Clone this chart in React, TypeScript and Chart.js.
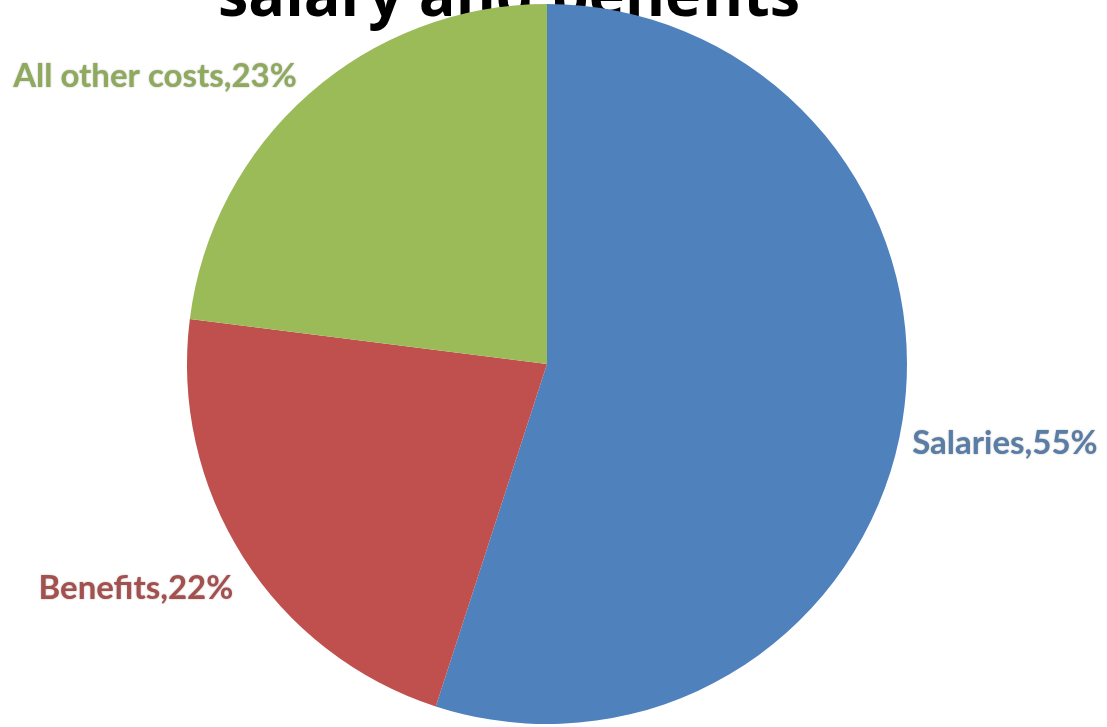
import React, { useEffect, useRef } from "react";
import { Chart, registerables } from "chart.js";

Chart.register(...registerables);

const titleText = "salary and benefits";
const categories = ["Salaries", "Benefits", "All other costs"];
const values = [55, 22, 23];
const sliceColors = ["#4F81BD", "#C0504D", "#9BBB59"];
const labelColors = ["#5A7DA6", "#A3504E", "#8FA95D"];
// label offsets relative to pie center, in radius units
const labelOffsets = [
  [1.272, 0.22],
  [-1.142, 0.622],
  [-1.089, -0.8],
];

export default function App() {
  const ref = useRef<HTMLCanvasElement | null>(null);
  useEffect(() => {
    if (!ref.current) return;
    const textPlugin = {
      id: "customText",
      beforeDatasetsDraw(chart: any) {
        const ctx = chart.ctx;
        const arc0 = chart.getDatasetMeta(0).data[0] as any;
        ctx.save();
        ctx.fillStyle = "#000";
        ctx.textAlign = "center";
        ctx.textBaseline = "alphabetic";
        ctx.font = "bold 61px 'Open Sans', sans-serif";
        ctx.fillText(titleText, arc0.x - 38, 16);
        ctx.restore();
      },
      afterDraw(chart: any) {
        const ctx = chart.ctx;
        const arc0 = chart.getDatasetMeta(0).data[0] as any;
        const cx = arc0.x;
        const cy = arc0.y;
        const r = arc0.outerRadius;
        ctx.save();
        ctx.textBaseline = "middle";
        ctx.textAlign = "center";
        ctx.font = "bold 33px Lato, 'Open Sans', sans-serif";
        categories.forEach((c, i) => {
          const t = `${c},${values[i]}%`;
          const x = cx + labelOffsets[i][0] * r;
          const y = cy + labelOffsets[i][1] * r;
          ctx.shadowColor = "rgba(0,0,0,0.3)";
          ctx.shadowBlur = 2;
          ctx.fillStyle = labelColors[i];
          ctx.fillText(t, x, y);
        });
        ctx.restore();
      },
    };
    const chart = new Chart(ref.current, {
      type: "pie",
      data: {
        labels: categories,
        datasets: [
          {
            data: values,
            backgroundColor: sliceColors,
            borderColor: "rgba(255,255,255,0.6)",
            borderWidth: 0,
          },
        ],
      },
      options: {
        responsive: false,
        animation: false,
        layout: { padding: { left: 187, right: 200, top: 4, bottom: 3 } },
        plugins: {
          legend: { display: false },
          title: { display: false },
          tooltip: { enabled: false },
        },
      },
      plugins: [textPlugin],
    });
    return () => chart.destroy();
  }, []);
  return (
    <div style={{ position: "absolute", left: 0, top: 0, width: 1107, height: 727, background: "#fff" }}>
      <canvas ref={ref} width={1107} height={727} />
    </div>
  );
}
